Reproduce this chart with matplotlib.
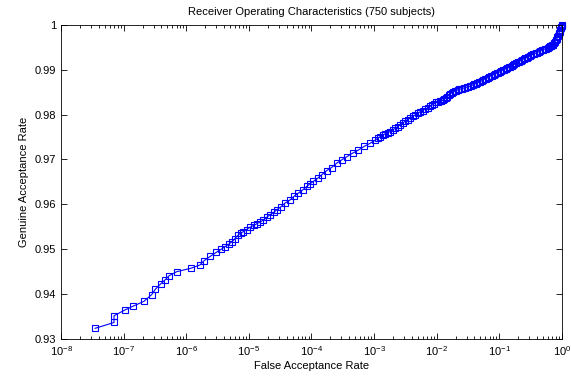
import matplotlib
matplotlib.use("Agg")
import matplotlib.pyplot as plt
from matplotlib.ticker import FuncFormatter, LogLocator, FixedLocator

plt.rcParams["font.family"] = ["Liberation Sans", "DejaVu Sans"]
plt.rcParams["mathtext.default"] = "regular"

# ROC curve: false acceptance rate vs genuine acceptance rate
far = [
    3.5e-8, 7.0e-8, 7.0e-8, 1.05e-7, 1.4e-7, 2.1e-7, 2.8e-7, 3.2e-7, 3.9e-7, 4.6e-7,
    5.3e-7, 7.0e-7, 1.2e-6, 1.65e-6, 1.9e-6, 2.4e-6, 3.0e-6,
    3.60e-6, 4.17e-6, 4.83e-6, 5.40e-6, 6.01e-6, 6.79e-6, 7.50e-6, 8.17e-6, 9.18e-6,
    1.04e-5, 1.19e-5, 1.34e-5, 1.51e-5, 1.71e-5, 1.92e-5, 2.18e-5, 2.48e-5, 2.79e-5,
    3.21e-5, 3.79e-5, 4.55e-5, 5.27e-5, 6.18e-5, 7.21e-5, 8.41e-5, 9.51e-5,
    1.07e-4, 1.25e-4, 1.46e-4, 1.74e-4, 2.09e-4, 2.54e-4, 3.03e-4, 3.66e-4, 4.53e-4,
    5.61e-4, 6.92e-4, 8.63e-4, 1.04e-3, 1.25e-3, 1.50e-3, 1.80e-3, 2.16e-3, 2.60e-3,
    3.13e-3, 3.76e-3, 4.52e-3, 5.43e-3, 6.53e-3, 7.85e-3, 9.08e-3, 1.06e-2,
    1.17e-2, 1.31e-2, 1.47e-2, 1.64e-2, 1.83e-2, 2.04e-2, 2.28e-2, 2.55e-2, 2.84e-2,
    3.17e-2, 3.54e-2, 3.95e-2, 4.42e-2, 4.93e-2, 5.51e-2, 6.15e-2, 6.87e-2, 7.67e-2,
    8.57e-2, 9.57e-2, 0.107, 0.119, 0.133, 0.149, 0.166, 0.185, 0.207, 0.231, 0.258,
    0.288, 0.322, 0.360, 0.402, 0.449, 0.501, 0.560, 0.625, 0.671, 0.723, 0.778,
    0.822, 0.869, 0.902, 0.935, 0.970, 1.0,
]
gar = [
    0.9324, 0.9337, 0.9352, 0.9365, 0.9373, 0.9384, 0.9399, 0.9411, 0.9423, 0.9432,
    0.9441, 0.9450, 0.9458, 0.9465, 0.9474, 0.9484, 0.9493,
    0.9500, 0.9506, 0.9512, 0.9517, 0.9524, 0.9532, 0.9537, 0.9539, 0.9544,
    0.9549, 0.9553, 0.9557, 0.9561, 0.9565, 0.9571, 0.9577, 0.9582, 0.9588,
    0.9594, 0.9603, 0.9610, 0.9618, 0.9625, 0.9632, 0.9640, 0.9646,
    0.9651, 0.9658, 0.9666, 0.9675, 0.9682, 0.9692, 0.9699, 0.9706, 0.9714,
    0.9721, 0.9729, 0.9736, 0.9743, 0.9751, 0.9757, 0.9762, 0.9769, 0.9777,
    0.9785, 0.9792, 0.9799, 0.9806, 0.9812, 0.9818, 0.9824, 0.9829,
    0.9830, 0.9834, 0.9839, 0.9846, 0.9850, 0.9853, 0.9856, 0.9858, 0.9860,
    0.9862, 0.9864, 0.9867, 0.9870, 0.9873, 0.9877, 0.9880, 0.9884, 0.9887,
    0.9890, 0.9893, 0.9897, 0.9900, 0.9903, 0.9907, 0.9910, 0.9914, 0.9918, 0.9922, 0.9925,
    0.9928, 0.9932, 0.9935, 0.9938, 0.9941, 0.9944, 0.9947, 0.9950, 0.9953, 0.9956, 0.9962,
    0.9968, 0.9976, 0.9982, 0.9988, 0.9995, 1.0,
]

# extra readings where the markers pile up into a solid band (FAR > 1e-3)
far_dense = [
    1.14e-3, 1.37e-3, 1.64e-3, 1.97e-3, 2.37e-3, 2.85e-3, 3.43e-3, 4.12e-3, 4.95e-3,
    5.95e-3, 7.16e-3, 8.44e-3, 9.81e-3, 1.11e-2,
    1.24e-2, 1.39e-2, 1.55e-2, 1.73e-2, 1.93e-2, 2.16e-2, 2.41e-2, 2.69e-2, 3.00e-2,
    3.35e-2, 3.74e-2, 4.18e-2, 4.67e-2, 5.21e-2, 5.82e-2, 6.50e-2, 7.26e-2, 8.11e-2,
    9.06e-2, 0.101, 0.113, 0.126, 0.141, 0.157, 0.175, 0.196, 0.219, 0.244, 0.273,
    0.305, 0.341, 0.381, 0.425, 0.474, 0.530, 0.592, 0.648, 0.697, 0.750, 0.800,
    0.845, 0.885, 0.918, 0.952, 1.0,
]
gar_dense = [
    0.9747, 0.9754, 0.9760, 0.9766, 0.9773, 0.9781, 0.9789, 0.9796, 0.9803,
    0.9809, 0.9815, 0.9821, 0.9827, 0.9830,
    0.9832, 0.9836, 0.9843, 0.9848, 0.9852, 0.9855, 0.9857, 0.9859, 0.9861,
    0.9863, 0.9866, 0.9869, 0.9872, 0.9875, 0.9879, 0.9882, 0.9886, 0.9889,
    0.9892, 0.9895, 0.9899, 0.9902, 0.9905, 0.9909, 0.9912, 0.9916, 0.9920, 0.9924, 0.9927,
    0.9930, 0.9934, 0.9937, 0.9940, 0.9943, 0.9946, 0.9949, 0.9952, 0.9955, 0.9959, 0.9965,
    0.9972, 0.9979, 0.9985, 0.9992, 0.9997,
]

y_ticks = [0.93, 0.94, 0.95, 0.96, 0.97, 0.98, 0.99, 1.0]

pts = sorted(zip(far + far_dense, gar + gar_dense))
x_all = [p[0] for p in pts]
y_all = [p[1] for p in pts]

fig = plt.figure(figsize=(5.71, 3.81), dpi=100)
ax = fig.add_axes([0.107, 0.110, 0.877, 0.825])

ax.plot(x_all, y_all, color="blue", linestyle="-", linewidth=0.8, marker="s",
        markersize=4.0, markerfacecolor="none", markeredgewidth=0.8, clip_on=False)

ax.set_xscale("log")
ax.set_xlim(1e-8, 1)
ax.set_ylim(0.93, 1.0)
ax.xaxis.set_major_locator(LogLocator(base=10, numticks=12))
ax.xaxis.set_minor_locator(LogLocator(base=10, subs=range(2, 10), numticks=12))
ax.yaxis.set_major_locator(FixedLocator(y_ticks))
ax.yaxis.set_major_formatter(FuncFormatter(lambda v, p: "%g" % round(v, 2)))

ax.tick_params(which="both", direction="in", top=True, right=True,
               labelsize=8, colors="black", width=0.6)
ax.tick_params(which="major", length=4)
ax.tick_params(which="minor", length=2.5)
ax.tick_params(axis="x", which="major", pad=4)
for s in ax.spines.values():
    s.set_linewidth(0.6)

ax.set_title("Receiver Operating Characteristics (750 subjects)", fontsize=8, pad=7)
ax.set_xlabel("False Acceptance Rate", fontsize=8, labelpad=2)
ax.set_ylabel("Genuine Acceptance Rate", fontsize=8, labelpad=4)

fig.savefig("out.png", dpi=100)
